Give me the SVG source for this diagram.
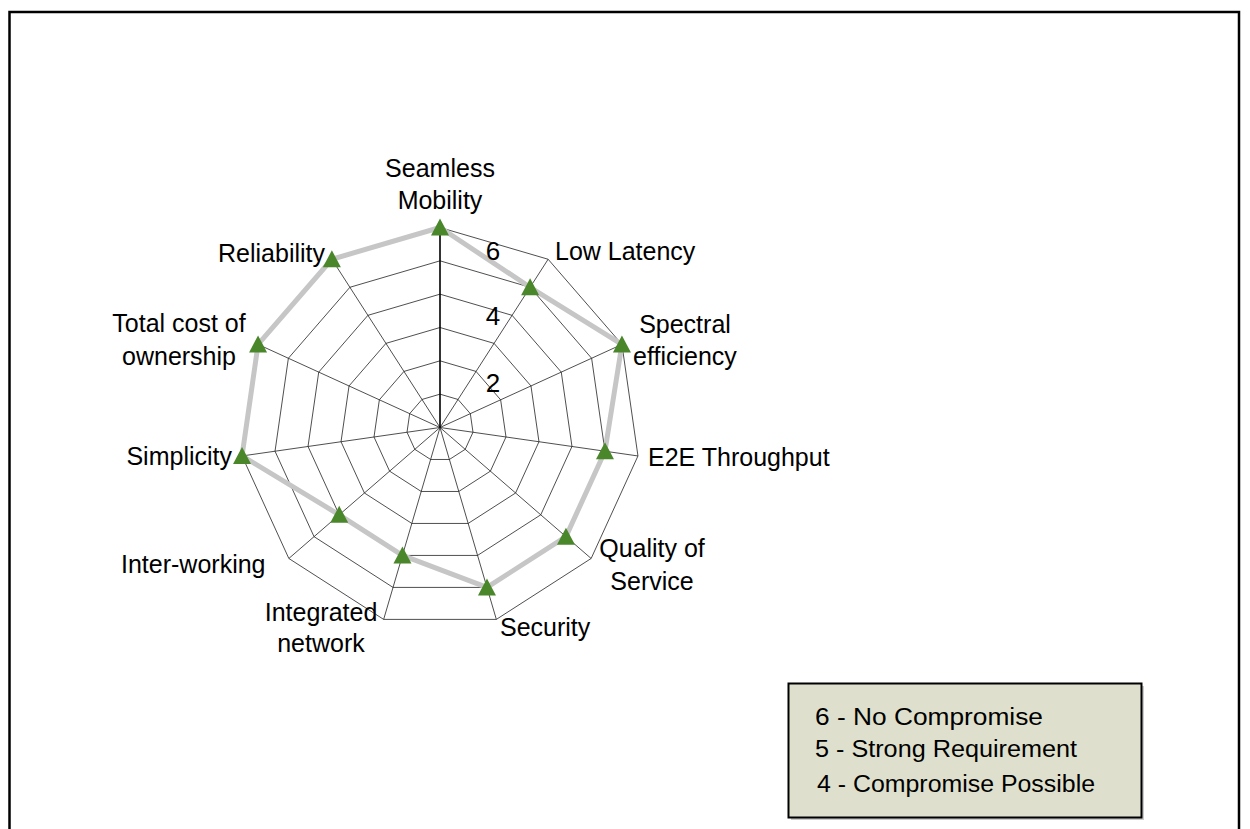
<svg xmlns="http://www.w3.org/2000/svg" xmlns:xlink="http://www.w3.org/1999/xlink" width="1250" height="829" viewBox="0 0 1250 829">
<style>
  .grid{fill:none;stroke:#222;stroke-width:0.8}
  .spoke{stroke:#222;stroke-width:0.8}
  .vaxis{stroke:#000;stroke-width:1.6}
  .series{fill:none;stroke:#c6c6c6;stroke-width:5;stroke-linejoin:round}
  .mk{fill:#4a862a}
  .lbl{font-family:"Liberation Sans",Arial,sans-serif;font-size:25px;fill:#000}
  .tick{font-family:"Liberation Sans",Arial,sans-serif;font-size:26px;fill:#000;text-anchor:middle}
  .leg{font-family:"Liberation Sans",Arial,sans-serif;font-size:23px;fill:#000}
  .mid{text-anchor:middle}
  .end{text-anchor:end}
</style>
<defs>
  <path id="tri" d="M0,-9 L9,8 L-9,8 Z"/>
</defs>
<rect x="0" y="0" width="1250" height="829" fill="#fff"/>
<rect id="frame" x="9.5" y="12" width="1229.5" height="840" fill="none" stroke="#000" stroke-width="2.5"/>

<g id="chart" transform="translate(440,427.5)">
  <g id="grid">
    <polygon class="grid" points="0,-33.33 18.02,-28.04 30.32,-13.85 32.99,4.74 25.19,21.83 9.39,31.98 -9.39,31.98 -25.19,21.83 -32.99,4.74 -30.32,-13.85 -18.02,-28.04"/>
    <polygon class="grid" points="0,-66.67 36.04,-56.08 60.64,-27.69 65.99,9.49 50.38,43.66 18.78,63.97 -18.78,63.97 -50.38,43.66 -65.99,9.49 -60.64,-27.69 -36.04,-56.08"/>
    <polygon class="grid" points="0,-100 54.06,-84.13 90.96,-41.54 98.98,14.23 75.58,65.49 28.17,95.95 -28.17,95.95 -75.58,65.49 -98.98,14.23 -90.96,-41.54 -54.06,-84.13"/>
    <polygon class="grid" points="0,-133.33 72.09,-112.17 121.28,-55.39 131.98,18.97 100.77,87.31 37.56,127.93 -37.56,127.93 -100.77,87.31 -131.98,18.97 -121.28,-55.39 -72.09,-112.17"/>
    <polygon class="grid" points="0,-166.67 90.11,-140.21 151.61,-69.24 164.97,23.72 125.96,109.14 46.96,159.92 -46.96,159.92 -125.96,109.14 -164.97,23.72 -151.61,-69.24 -90.11,-140.21"/>
    <polygon class="grid" points="0,-200 108.13,-168.25 181.93,-83.08 197.96,28.46 151.15,130.97 56.35,191.9 -56.35,191.9 -151.15,130.97 -197.96,28.46 -181.93,-83.08 -108.13,-168.25"/>
  </g>
  <g id="connectors">
    <line class="spoke" x1="0" y1="0" x2="108.13" y2="-168.25"/>
    <line class="spoke" x1="0" y1="0" x2="181.93" y2="-83.08"/>
    <line class="spoke" x1="0" y1="0" x2="197.96" y2="28.46"/>
    <line class="spoke" x1="0" y1="0" x2="151.15" y2="130.97"/>
    <line class="spoke" x1="0" y1="0" x2="56.35" y2="191.9"/>
    <line class="spoke" x1="0" y1="0" x2="-56.35" y2="191.9"/>
    <line class="spoke" x1="0" y1="0" x2="-151.15" y2="130.97"/>
    <line class="spoke" x1="0" y1="0" x2="-197.96" y2="28.46"/>
    <line class="spoke" x1="0" y1="0" x2="-181.93" y2="-83.08"/>
    <line class="spoke" x1="0" y1="0" x2="-108.13" y2="-168.25"/>
    <line class="vaxis" x1="0" y1="0" x2="0" y2="-200"/>
    <polygon class="series" points="0,-200 90.11,-140.21 181.93,-83.08 164.97,23.72 125.96,109.14 46.96,159.92 -37.56,127.93 -100.77,87.31 -197.96,28.46 -181.93,-83.08 -108.13,-168.25"/>
  </g>
  <g id="markers">
    <use class="mk" xlink:href="#tri" x="0" y="-200"/>
    <use class="mk" xlink:href="#tri" x="90.11" y="-140.21"/>
    <use class="mk" xlink:href="#tri" x="181.93" y="-83.08"/>
    <use class="mk" xlink:href="#tri" x="164.97" y="23.72"/>
    <use class="mk" xlink:href="#tri" x="125.96" y="109.14"/>
    <use class="mk" xlink:href="#tri" x="46.96" y="159.92"/>
    <use class="mk" xlink:href="#tri" x="-37.56" y="127.93"/>
    <use class="mk" xlink:href="#tri" x="-100.77" y="87.31"/>
    <use class="mk" xlink:href="#tri" x="-197.96" y="28.46"/>
    <use class="mk" xlink:href="#tri" x="-181.93" y="-83.08"/>
    <use class="mk" xlink:href="#tri" x="-108.13" y="-168.25"/>
  </g>
</g>

<g id="ticks">
  <text class="tick" x="493" y="260">6</text>
  <text class="tick" x="493" y="325">4</text>
  <text class="tick" x="493" y="392">2</text>
</g>

<g id="node-seamless-mobility"><text class="lbl mid" x="440" y="177">Seamless</text><text class="lbl mid" x="440" y="209">Mobility</text></g>
<g id="node-low-latency"><text class="lbl" x="555" y="260">Low Latency</text></g>
<g id="node-spectral-efficiency"><text class="lbl mid" x="685" y="333">Spectral</text><text class="lbl mid" x="685" y="365">efficiency</text></g>
<g id="node-e2e-throughput"><text class="lbl" x="648" y="466">E2E Throughput</text></g>
<g id="node-qos"><text class="lbl mid" x="652" y="557">Quality of</text><text class="lbl mid" x="652" y="590">Service</text></g>
<g id="node-security"><text class="lbl" x="500" y="636">Security</text></g>
<g id="node-integrated-network"><text class="lbl mid" x="321" y="621">Integrated</text><text class="lbl mid" x="321" y="652">network</text></g>
<g id="node-inter-working"><text class="lbl" x="121" y="573">Inter-working</text></g>
<g id="node-simplicity"><text class="lbl end" x="232" y="465">Simplicity</text></g>
<g id="node-tco"><text class="lbl mid" x="179" y="332">Total cost of</text><text class="lbl mid" x="179" y="365">ownership</text></g>
<g id="node-reliability"><text class="lbl end" x="325" y="262">Reliability</text></g>

<g id="legend">
  <rect x="791" y="686" width="353" height="134" fill="#9a9a9a" opacity="0.5"/>
  <rect x="788.5" y="683.5" width="353" height="134" fill="#dee0cd" stroke="#000" stroke-width="2"/>
  <text class="leg" x="815" y="725" textLength="228" lengthAdjust="spacingAndGlyphs">6 - No Compromise</text>
  <text class="leg" x="815" y="757" textLength="262" lengthAdjust="spacingAndGlyphs">5 - Strong Requirement</text>
  <text class="leg" x="817" y="792" textLength="278" lengthAdjust="spacingAndGlyphs">4 - Compromise Possible</text>
</g>
</svg>
